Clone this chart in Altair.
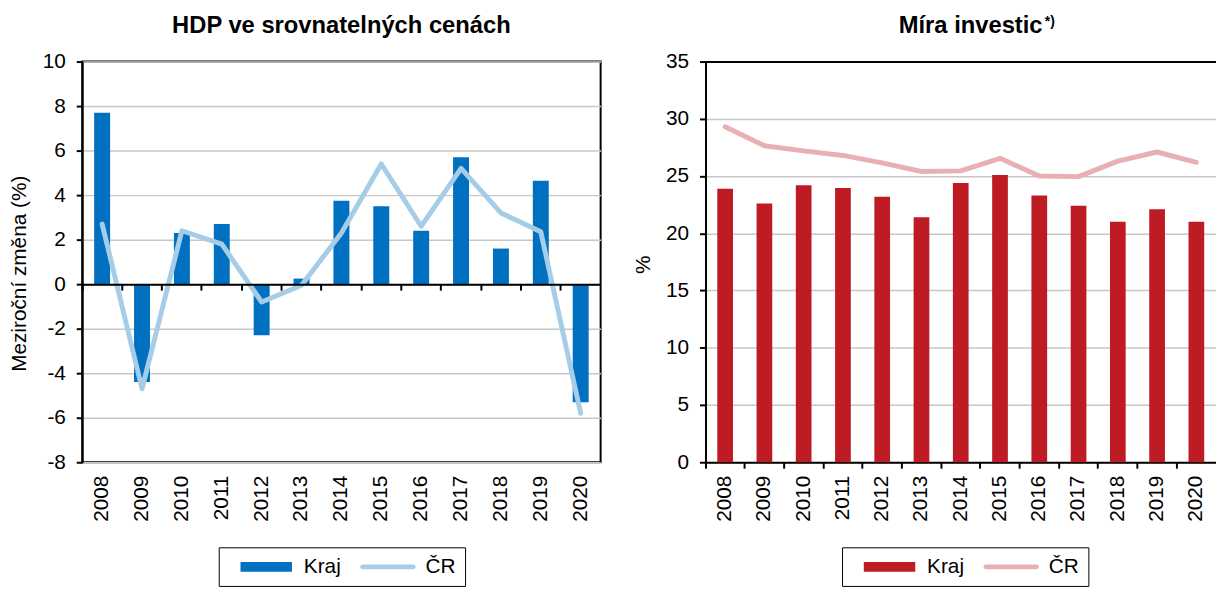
import altair as alt
import pandas as pd

FONT = "Liberation Sans"

years = [str(y) for y in range(2008, 2021)]
series = ["Kraj", "ČR"]

# HDP ve srovnatelných cenách (meziroční změna, %)
hdp_kraj = [7.7, -4.4, 2.3, 2.7, -2.3, 0.25, 3.75, 3.5, 2.4, 5.7, 1.6, 4.65, -5.3]
hdp_cr = [2.7, -4.7, 2.4, 1.8, -0.8, -0.05, 2.3, 5.4, 2.6, 5.2, 3.2, 2.35, -5.8]

# Míra investic (%)
inv_kraj = [23.9, 22.6, 24.2, 23.95, 23.2, 21.4, 24.4, 25.1, 23.3, 22.4, 21.0, 22.1, 21.0]
inv_cr = [29.3, 27.65, 27.2, 26.8, 26.15, 25.4, 25.45, 26.55, 25.0, 24.95, 26.3, 27.1, 26.2]

BLUE, LBLUE = "#0070C0", "#A6CDE8"
RED, PINK = "#BE1B24", "#E8B0B3"

BAR_PATH = "M0.278,-0.556H6.056V0.556H0.278Z"
LINE_PATH = ("M0.336,-0.28H6A0.28,0.28 0 0 1 6,0.28H0.336"
             "A0.28,0.28 0 0 1 0.336,-0.28Z")

W_L, W_R, H = 524, 516, 405

x_scale = alt.Scale(domain=years, paddingInner=0, paddingOuter=0)


def legend_spec():
    return alt.Legend(
        title=None, orient="none", legendX=138, legendY=491,
        direction="horizontal", strokeColor="black", padding=9,
        symbolSize=324, symbolStrokeWidth=0, symbolOpacity=1,
        labelOffset=56, labelFontSize=21, labelColor="black", labelFont=FONT,
        columnPadding=8,
    )


def y_axis(values, title, title_y):
    return alt.Axis(
        values=values, title=title, titleFontSize=21, titleFontWeight="normal",
        titleX=-63, titleY=title_y, titleAngle=-90, titleAlign="center",
        titleBaseline="middle", titleColor="black",
        labelFontSize=21, labelPadding=11, labelColor="black",
        labelExpr="toString(datum.value)",
        tickSize=6, tickWidth=2, tickColor="black",
        domainColor="black", domainWidth=2,
        gridColor="#c8c8c8", gridWidth=1.5,
    )


# ---------------- left chart ----------------
df_l = pd.DataFrame({"year": years, "kraj": hdp_kraj, "cr": hdp_cr})
y_scale_l = alt.Scale(domain=[-8, 10], nice=False)
y_axis_l = y_axis(list(range(-8, 11, 2)), "Meziroční změna (%)", 214)

label_axis_l = alt.Axis(
    orient="bottom", title=None, labelAngle=-90, labelAlign="right",
    labelBaseline="middle", labelFontSize=21, labelPadding=13,
    labelColor="black", ticks=False, domain=False, grid=False,
)
tick_axis_l = alt.Axis(
    orient="bottom", title=None, labels=False, offset=-180, bandPosition=0,
    tickSize=6, tickWidth=2, tickColor="black", domainColor="black",
    domainWidth=2, zindex=1, grid=False,
)

bars_l = alt.Chart(df_l).mark_bar(color=BLUE, width=alt.RelativeBandSize(0.4)).encode(
    x=alt.X("year:O", scale=x_scale, axis=label_axis_l),
    y=alt.Y("kraj:Q", scale=y_scale_l, axis=y_axis_l),
)
line_l = alt.Chart(df_l).mark_line(
    color=LBLUE, strokeWidth=5, strokeCap="round", strokeJoin="round"
).encode(
    x=alt.X("year:O", scale=x_scale, axis=tick_axis_l),
    y=alt.Y("cr:Q", scale=y_scale_l, axis=y_axis_l),
)
df_leg_l = pd.DataFrame({"series": series, "year": [years[0]] * 2, "v": [hdp_kraj[0]] * 2})
leg_l = alt.Chart(df_leg_l).mark_point(filled=True, opacity=0, size=324).encode(
    x=alt.X("year:O", scale=x_scale, axis=None),
    y=alt.Y("v:Q", scale=y_scale_l, axis=y_axis_l),
    color=alt.Color("series:N", scale=alt.Scale(domain=series, range=[BLUE, LBLUE]),
                    legend=legend_spec()),
    shape=alt.Shape("series:N", scale=alt.Scale(domain=series, range=[BAR_PATH, LINE_PATH]),
                    legend=legend_spec()),
)
left = alt.layer(bars_l, line_l, leg_l).resolve_axis(x="independent").properties(
    width=W_L, height=H,
    title=alt.TitleParams("HDP ve srovnatelných cenách", offset=13),
)

# ---------------- right chart ----------------
df_r = pd.DataFrame({"year": years, "kraj": inv_kraj, "cr": inv_cr})
y_scale_r = alt.Scale(domain=[0, 35], nice=False)
y_axis_r = y_axis(list(range(0, 36, 5)), "%", 205)

axis_r = alt.Axis(
    orient="bottom", title=None, labelAngle=-90, labelAlign="right",
    labelBaseline="middle", labelFontSize=21, labelPadding=7, labelColor="black",
    bandPosition=0, tickSize=6, tickWidth=2, tickColor="black",
    domainColor="black", domainWidth=2, grid=False,
)
top_axis_r = alt.Axis(
    orient="top", title=None, labels=False, ticks=False,
    domainColor="black", domainWidth=2, grid=False,
)

bars_r = alt.Chart(df_r).mark_bar(color=RED, width=alt.RelativeBandSize(0.4)).encode(
    x=alt.X("year:O", scale=x_scale, axis=axis_r),
    y=alt.Y("kraj:Q", scale=y_scale_r, axis=y_axis_r),
)
line_r = alt.Chart(df_r).mark_line(
    color=PINK, strokeWidth=5, strokeCap="round", strokeJoin="round"
).encode(
    x=alt.X("year:O", scale=x_scale, axis=top_axis_r),
    y=alt.Y("cr:Q", scale=y_scale_r, axis=y_axis_r),
)
df_leg_r = pd.DataFrame({"series": series, "year": [years[0]] * 2, "v": [inv_kraj[0]] * 2})
leg_r = alt.Chart(df_leg_r).mark_point(filled=True, opacity=0, size=324).encode(
    x=alt.X("year:O", scale=x_scale, axis=None),
    y=alt.Y("v:Q", scale=y_scale_r, axis=y_axis_r),
    color=alt.Color("series:N", scale=alt.Scale(domain=series, range=[RED, PINK]),
                    legend=legend_spec()),
    shape=alt.Shape("series:N", scale=alt.Scale(domain=series, range=[BAR_PATH, LINE_PATH]),
                    legend=legend_spec()),
)
sup = alt.Chart(pd.DataFrame({"t": ["*)"]})).mark_text(
    font=FONT, fontSize=14, fontWeight="bold", align="left", baseline="top", color="black"
).encode(x=alt.value(343), y=alt.value(-47), text="t:N")

right = alt.layer(bars_r, line_r, leg_r, sup).resolve_axis(x="independent").properties(
    width=W_R, height=H,
    title=alt.TitleParams("Míra investic", offset=-23, dx=10),
    view=alt.ViewBackground(stroke=None),
)

chart = alt.hconcat(left, right, spacing=31).resolve_scale(
    color="independent", shape="independent"
).properties(
    padding={"left": 0, "top": 2, "right": 0, "bottom": 0}
).configure_view(stroke="black", strokeWidth=2).configure_title(
    font=FONT, fontSize=24, fontWeight="bold", color="black", anchor="middle",
    baseline="alphabetic",
).configure_axis(labelFont=FONT, titleFont=FONT).configure_legend(labelFont=FONT)

chart.save("out.html", embed_options={"renderer": "svg", "actions": False})
